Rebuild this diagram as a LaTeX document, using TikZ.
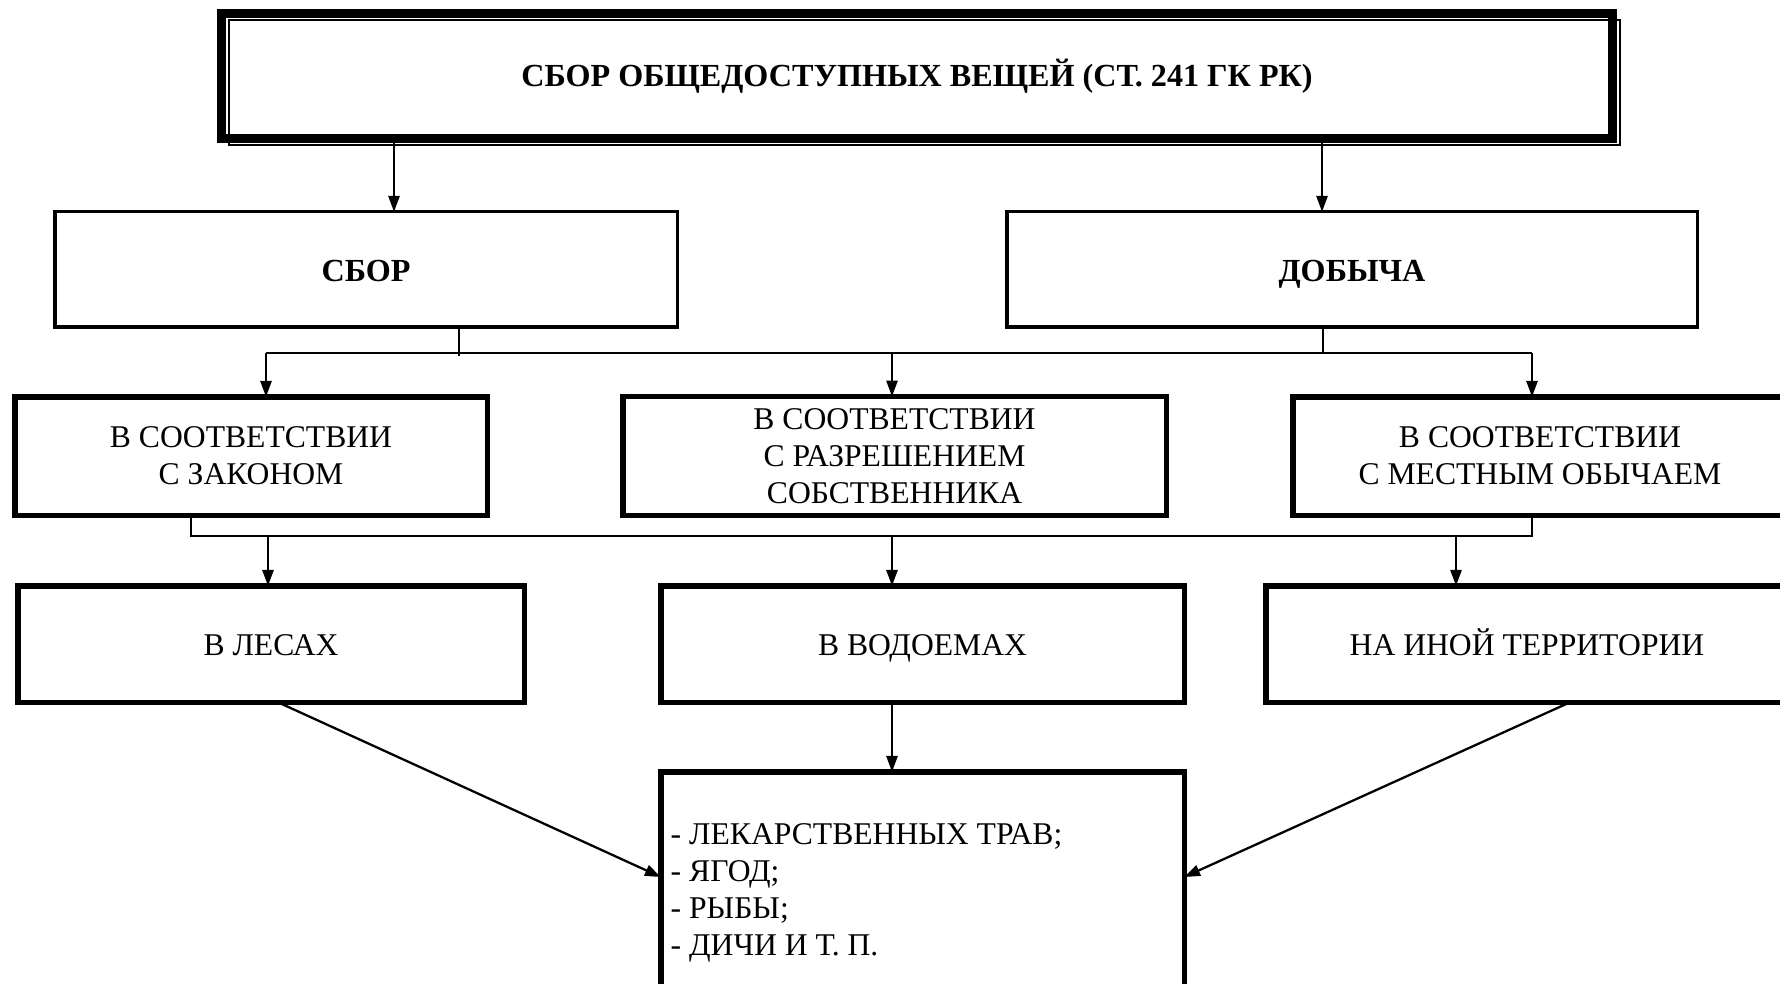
\documentclass[tikz,border=0pt]{standalone}
\usepackage{fontspec}
\setmainfont{Liberation Serif}
\usetikzlibrary{positioning,arrows.meta,calc}
\tikzset{
  titlenode/.style={draw, line width=0.9mm, minimum width=139.1mm, minimum height=12.5mm,
                    outer sep=0pt, font=\fontsize{9.15}{10.6}\selectfont\bfseries, align=center},
  kindbox/.style={draw, line width=0.35mm, minimum height=11.55mm, outer sep=0pt,
                  text height=0.66em, text depth=0pt,
                  font=\fontsize{9.15}{10.6}\selectfont\bfseries, align=center},
  basisbox/.style={draw, line width=0.55mm, minimum height=11.85mm, outer sep=0pt,
                   font=\fontsize{9}{10.6}\selectfont, align=center},
  placebox/.style={draw, line width=0.55mm, minimum height=11.65mm, outer sep=0pt,
                   text height=0.66em, text depth=0pt,
                   font=\fontsize{9}{10.6}\selectfont, align=center},
  arr/.style={-{Triangle[length=4.5pt,width=3.2pt]}, line width=0.55pt},
  bus/.style={line width=0.5pt}
}
\begin{document}
\begin{tikzpicture}[x=0.1mm,y=-0.1mm]
  \clip (0,0) rectangle (1780,984);
  \fill[white] (0,0) rectangle (1780,984);

  % Title box with thin second frame
  \node[titlenode] (title) at (917,76) {СБОР ОБЩЕДОСТУПНЫХ ВЕЩЕЙ (СТ. 241 ГК РК)};
  \draw[line width=0.2mm] ($(title.north west)+(7,7)$) rectangle ($(title.south east)+(7,7)$);

  % Kinds
  \node[kindbox, minimum width=62.25mm] (sbor) at (366,269.5) {СБОР};
  \node[kindbox, minimum width=69.05mm] (dobycha) at (1352,269.5) {ДОБЫЧА};
  \draw[arr] ([xshift=2.8mm]sbor.north |- title.south) -- ([xshift=2.8mm]sbor.north);
  \draw[arr] ([xshift=-3mm]dobycha.north |- title.south) -- ([xshift=-3mm]dobycha.north);

  % Bases
  \node[basisbox, minimum width=47.25mm] (zakon) at (251,456) {В СООТВЕТСТВИИ\\С ЗАКОНОМ};
  \node[basisbox, minimum width=54.35mm] (razresh) at (894.5,456)
       {В СООТВЕТСТВИИ\\С РАЗРЕШЕНИЕМ\\СОБСТВЕННИКА};
  \node[basisbox, minimum width=49.45mm] (obychai) at (1540,456)
       {В СООТВЕТСТВИИ\\С МЕСТНЫМ ОБЫЧАЕМ};

  \coordinate (busa) at (266,353);
  \coordinate (busb) at (1532,353);
  \draw[bus] (busa) -- (busb);
  \draw[bus] ([xshift=9.3mm]sbor.south) -- ([xshift=9.3mm,yshift=-0.3mm]sbor.south |- busa);
  \draw[bus] ([xshift=-2.9mm]dobycha.south) -- ([xshift=-2.9mm]dobycha.south |- busa);
  \draw[arr] (busa) -- (busa |- zakon.north);
  \draw[arr] ([xshift=-0.25mm]razresh.north |- busa) -- ([xshift=-0.25mm]razresh.north);
  \draw[arr] (busb) -- (busb |- obychai.north);

  % Places
  \node[placebox, minimum width=50.65mm] (lesa) at (271,644) {В ЛЕСАХ};
  \node[placebox, minimum width=52.35mm] (vodoemy) at (922.5,644) {В ВОДОЕМАХ};
  \node[placebox, minimum width=52.25mm] (inaya) at (1527,644) {НА ИНОЙ ТЕРРИТОРИИ};

  \coordinate (busc) at (191,536);
  \coordinate (busd) at (1532,536);
  \draw[bus] (busc |- zakon.south) -- (busc) -- (busd) -- (busd |- obychai.south);
  \draw[arr] (268,536) -- (268,536 |- lesa.north);
  \draw[arr] (892,536) -- (892,536 |- vodoemy.north);
  \draw[arr] (1456,536) -- (1456,536 |- inaya.north);

  % Objects
  \node[placebox, minimum width=52.35mm, minimum height=30.55mm] (objects) at (922.5,924.5) {};
  \node[font=\fontsize{9}{10.6}\selectfont, align=left, anchor=west, inner sep=0pt] (objtxt)
       at (670,893) {- ЛЕКАРСТВЕННЫХ ТРАВ;\\- ЯГОД;\\- РЫБЫ;\\- ДИЧИ И Т. П.};
  \draw[arr] ([xshift=-3.05mm]vodoemy.south) -- ([xshift=-3.05mm]objects.north);
  \draw[arr, line width=0.65pt] ([xshift=0.7mm]lesa.south) -- ([yshift=4.75mm]objects.west);
  \draw[arr, line width=0.65pt] ([xshift=4.3mm]inaya.south) -- ([yshift=4.75mm]objects.east);
\end{tikzpicture}
\end{document}
